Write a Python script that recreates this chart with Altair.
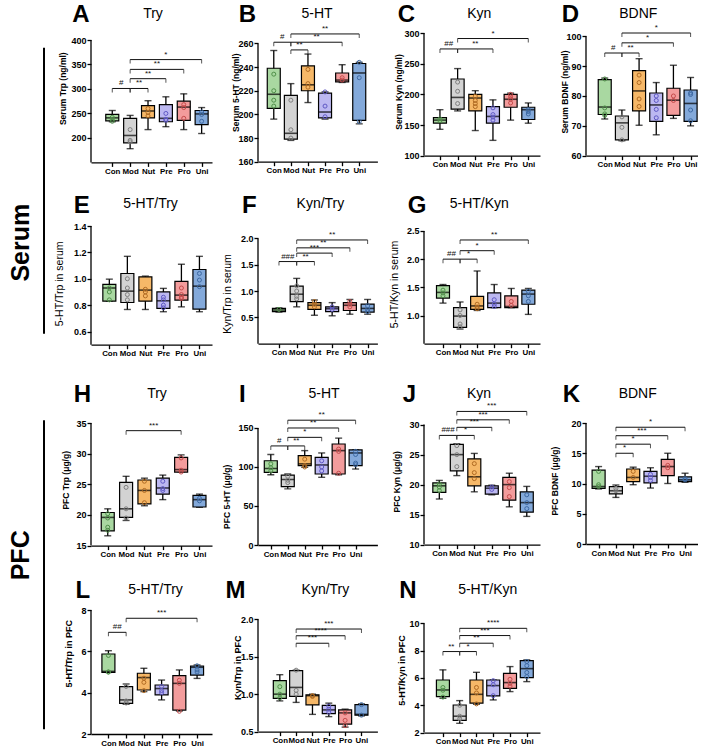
import altair as alt
import pandas as pd

FONT = "Liberation Sans"
GROUPS = ["Con", "Mod", "Nut", "Pre", "Pro", "Uni"]
FILLS = ["#a9d8a1", "#d3d3d3", "#f6b868", "#bcb8f1", "#f39c9c", "#83a9da"]
DOTS = ["#4f8f49", "#7f7f7f", "#b06a22", "#5f59c4", "#c54b4b", "#3d69a3"]

# box statistics per group: [min, q1, median, q3, max]
# ---------------- serum ----------------
A_box = [[233, 235, 241, 248, 256], [178, 190, 205, 240, 246], [217, 241, 255, 266, 276],
         [223, 233, 240, 268, 284], [217, 236, 263, 275, 290], [209, 227, 249, 256, 262]]
A_pts = [[242, 238, 234], [217, 195, 192], [260, 252, 245], [250, 238, 236], [268, 262, 240], [253, 248, 234]]
A_sig = [(0, 1, 301, "#"), (1, 2, 301, "**"), (1, 3, 321, "**"), (1, 4, 340, "**"), (1, 5, 360, "*")]

B_box = [[196, 205, 217, 239, 254], [178, 179, 184, 216, 226], [210, 220, 225, 241, 251],
         [196, 197, 202, 218, 219], [227, 227.5, 229, 235, 242], [192, 195, 235, 243, 244]]
B_pts = [[234, 220, 212, 207], [212, 187, 180], [238, 226, 223], [219, 207, 198], [231, 229], [244, 231, 194]]
B_sig = [(0, 1, 261, "#"), (1, 2, 254.5, "**"), (1, 4, 261, "**"), (1, 5, 268, "**")]

C_box = [[143, 153, 158, 162, 175], [173, 176, 195, 225, 242], [141, 173, 194, 200, 206],
         [125, 153, 164, 180, 191], [158, 179, 192, 200, 202], [153, 159, 175, 179, 186]]
C_pts = [[160, 157], [220, 205, 185], [197, 190, 185, 180], [178, 167, 163, 158], [200, 196, 192, 186], [175, 172, 168]]
C_sig = [(0, 1, 274, "##"), (1, 3, 274, "**"), (1, 5, 291, "*")]

D_box = [[72.3, 73.8, 76.3, 85.5, 86], [65, 65.3, 71, 73.3, 75.3], [70.2, 75, 81.7, 88.5, 92.5],
         [67, 71.5, 77, 81, 84.5], [72.5, 73.5, 78.6, 82.6, 90.3], [70, 71.5, 77.5, 82, 86.2]]
D_pts = [[85.7, 76, 74, 73.5], [73, 69.5, 65.3], [87, 84.5, 79, 76.5], [80, 78.5, 75.5, 72.7], [80, 78.5], [81, 80.5, 75.3, 71.7]]
D_sig = [(0, 1, 94.4, "#"), (1, 2, 94.4, "**"), (1, 4, 97.8, "*"), (1, 5, 101.1, "*")]

E_box = [[0.83, 0.83, 0.93, 0.957, 0.997], [0.767, 0.82, 0.906, 1.04, 1.17], [0.767, 0.83, 0.914, 1.015, 1.02],
         [0.75, 0.775, 0.833, 0.90, 0.927], [0.787, 0.838, 0.876, 0.98, 1.11], [0.75, 0.77, 0.944, 1.07, 1.17]]
E_pts = [[0.93, 0.90, 0.84], [1.0, 0.93, 0.88, 0.84], [0.92, 0.90, 0.87], [0.86, 0.84, 0.80, 0.78], [0.93, 0.88, 0.86, 0.85], [1.04, 0.99, 0.94]]
E_sig = []

F_box = [[0.60, 0.61, 0.64, 0.67, 0.68], [0.70, 0.80, 0.94, 1.095, 1.24], [0.54, 0.65, 0.73, 0.78, 0.83],
         [0.53, 0.61, 0.665, 0.70, 0.78], [0.56, 0.63, 0.73, 0.78, 0.84], [0.56, 0.60, 0.67, 0.75, 0.84]]
F_pts = [[0.65], [1.10, 1.00, 0.90, 0.85], [0.80, 0.75, 0.70], [0.70, 0.65], [0.80, 0.75, 0.70], [0.72, 0.65, 0.61]]
F_sig = [(0, 1, 1.56, "###"), (1, 2, 1.56, "**"), (1, 3, 1.72, "***"), (1, 4, 1.82, "**"), (1, 5, 1.97, "**")]

G_box = [[1.22, 1.31, 1.41, 1.53, 1.55], [0.76, 0.79, 0.99, 1.14, 1.24], [1.09, 1.11, 1.17, 1.34, 1.79],
         [1.14, 1.14, 1.22, 1.40, 1.55], [1.14, 1.14, 1.16, 1.35, 1.48], [1.02, 1.20, 1.38, 1.45, 1.48]]
G_pts = [[1.45, 1.40, 1.35], [1.10, 1.00, 0.85, 0.80], [1.20, 1.15, 1.12], [1.28, 1.20, 1.16], [1.25, 1.18], [1.43, 1.35, 1.25]]
G_sig = [(0, 1, 2.0, "##"), (1, 2, 2.0, "*"), (1, 3, 2.15, "*"), (1, 5, 2.34, "**")]

# ---------------- prefrontal cortex ----------------
H_box = [[16.6, 17.4, 19.6, 20.4, 21], [19.1, 19.6, 21, 25.3, 26.3], [21.5, 21.8, 24, 25.7, 26],
         [22.5, 23.4, 24.4, 26, 26.5], [27, 27, 27.4, 29.4, 29.8], [21.25, 21.3, 22.5, 23.2, 23.4]]
H_pts = [[20.2, 19.5, 18, 17.5], [24.5, 21, 19.5], [25.5, 24, 22], [25.5, 24.3, 24], [29.3, 27.3, 27], [22.7, 22.3]]
H_sig = [(1, 4, 33.75, "***")]

I_box = [[90, 93, 98, 108, 116], [72, 74.8, 84, 89.7, 91], [99.6, 101.7, 104, 114.5, 121],
         [86.8, 91, 102.6, 112.4, 118], [90, 91, 121, 129.5, 137], [97.4, 101.7, 118, 122, 122]]
I_pts = [[104, 99, 95], [88, 83, 80], [110, 102, 100], [108, 100, 95], [123, 120, 92], [120, 116, 105, 103]]
I_sig = [(0, 1, 127, "#"), (1, 2, 127, "**"), (1, 3, 138, "*"), (1, 4, 150, "**"), (1, 5, 160, "**")]

J_box = [[17.6, 18.7, 19.8, 20.3, 20.7], [21.5, 22.3, 25, 26.7, 26.8], [18.8, 19.8, 21.3, 24.3, 25.2],
         [18.3, 18.4, 19.4, 19.8, 19.9], [16.3, 17.4, 20, 21.2, 21.9], [14.7, 15.4, 17, 18.8, 19.7]]
J_pts = [[20.1, 19.6, 19], [26.5, 25, 23], [23.5, 22, 21], [19.6, 19.2], [20.5, 19.5, 18], [18.3, 17, 16]]
J_sig = [(0, 1, 28.2, "###"), (1, 2, 28.2, "*"), (1, 3, 29.55, "***"), (1, 4, 30.8, "***"), (1, 5, 32.2, "***")]

K_box = [[9.1, 9.2, 9.5, 12.2, 12.8], [7.7, 8.3, 8.8, 9.5, 9.75], [9.8, 10.3, 11, 12.4, 12.7],
         [9.25, 10.1, 11.2, 12, 12.6], [10, 11.3, 12.8, 14, 15], [10.2, 10.3, 10.6, 11.1, 11.7]]
K_pts = [[12, 9.8, 9.5], [9.2, 8.8], [12, 11], [11.5, 11, 10.5], [13, 12.6], [10.8, 10.6]]
K_sig = [(1, 2, 15, "*"), (1, 3, 16.5, "*"), (1, 4, 17.9, "***"), (1, 5, 19.3, "*")]

L_box = [[4.98, 4.98, 5.03, 5.87, 6.03], [3.44, 3.48, 3.65, 4.29, 4.42], [4.05, 4.13, 4.73, 4.94, 5.18],
         [3.65, 3.89, 4.2, 4.37, 4.61], [3.11, 3.16, 4.45, 4.82, 5.1], [4.69, 4.85, 5.23, 5.29, 5.34]]
L_pts = [[5.8, 5.0, 5.0], [4.3, 3.6, 3.5], [4.7, 4.5, 4.1], [4.3, 4.1, 4.0], [4.6, 4.45, 3.1], [5.3, 5.1, 5.0]]
L_sig = [(0, 1, 6.92, "##"), (1, 5, 7.6, "***")]

M_box = [[0.91, 0.945, 1.0, 1.18, 1.26], [0.89, 0.97, 1.09, 1.315, 1.32], [0.73, 0.856, 0.98, 0.99, 1.0],
         [0.70, 0.74, 0.79, 0.85, 0.88], [0.56, 0.60, 0.75, 0.79, 0.80], [0.71, 0.72, 0.73, 0.86, 0.87]]
M_pts = [[1.1, 1.0, 0.95], [1.32, 1.05, 1.0], [0.98, 0.97], [0.84, 0.80, 0.76], [0.75, 0.65, 0.58], [0.86, 0.72]]
M_sig = [(1, 3, 1.68, "***"), (1, 4, 1.78, "****"), (1, 5, 1.87, "***")]

N_box = [[4.51, 4.63, 5.12, 5.85, 6.59], [2.68, 2.9, 3.2, 4.02, 4.34], [4.07, 4.15, 4.8, 5.85, 6.41],
         [4.39, 4.68, 5.44, 5.85, 5.85], [5.0, 5.24, 5.66, 6.34, 6.83], [5.73, 6.02, 6.68, 7.27, 7.32]]
N_pts = [[5.3, 5.1, 4.6], [4.0, 3.2, 3.0], [5.3, 4.9, 4.1], [5.8, 5.5, 4.7], [5.9, 5.6, 5.4], [7.2, 6.9, 6.4, 6.1]]
N_sig = [(0, 1, 7.93, "**"), (1, 2, 7.93, "*"), (1, 3, 8.54, "**"), (1, 4, 9.1, "***"), (1, 5, 9.63, "****")]

# ---------------- panel options ----------------
# letter/title offsets are pixels from the plot's top-left corner
ROW_STYLE = [
    dict(ldy=-11, tdy=-15.5, tsize=8.5, tweight="bold"),
    dict(ldy=-12.6, tdy=-17.8, tsize=10.5, tweight="normal"),
    dict(ldy=-20.7, tdy=-25, tsize=8.5, tweight="bold"),
    dict(ldy=-11.7, tdy=-15.7, tsize=9, tweight="bold"),
]

PANELS = [
    # row 1
    [dict(letter="A", title="Try", ytitle="Serum Trp (ng/ml)", box=A_box, pts=A_pts, sig=A_sig,
          yticks=[200, 250, 300, 350, 400], fmt="d", ydom=(150, 414.3), xdom=(-0.91, 5.3),
          w=121, h=129.4, ldx=-18.8, tdx=62, tt=(-28.5, 55.2)),
     dict(letter="B", title="5-HT", ytitle="Serum 5-HT (ng/ml)", box=B_box, pts=B_pts, sig=B_sig,
          yticks=[160, 180, 200, 220, 240, 260], fmt="d", ydom=(160, 268.8), xdom=(-0.63, 5.77),
          w=119.4, h=128.7, ldx=-19.3, tdx=59, tt=(-22.6, 59.2)),
     dict(letter="C", title="Kyn", ytitle="Serum Kyn (ng/ml)", box=C_box, pts=C_pts, sig=C_sig,
          yticks=[100, 150, 200, 250, 300], fmt="d", ydom=(100, 300), xdom=(-0.62, 5.38),
          w=116, h=122.7, ldx=-26.3, tdx=55.3, tt=(-25.3, 58.5)),
     dict(letter="D", title="BDNF", ytitle="Serum BDNF (ng/ml)", box=D_box, pts=D_pts, sig=D_sig,
          yticks=[60, 70, 80, 90, 100], fmt="d", ydom=(60, 101.1), xdom=(-0.8, 5.14),
          w=112, h=122.7, ldx=-24.3, tdx=52.3, tt=(-21.7, 58.5))],
    # row 2
    [dict(letter="E", title="5-HT/Try", ytitle="5-HT/Trp in serum", box=E_box, pts=E_pts, sig=E_sig,
          yticks=[0.6, 0.8, 1.0, 1.2, 1.4], fmt=".1f", ydom=(0.5, 1.4), xdom=(-0.74, 5.42),
          w=121, h=118.7, ldx=-17.2, tdx=59.5, tt=(-31.2, 57.4)),
     dict(letter="F", title="Kyn/Try", ytitle="Kyn/Trp in serum", box=F_box, pts=F_pts, sig=F_sig,
          yticks=[0.5, 1.0, 1.5, 2.0], fmt=".1f", ydom=(0, 2.235), xdom=(-0.9, 5.27),
          w=119.4, h=117.7, ldx=-15.9, tdx=62.4, tt=(-30.9, 67.4)),
     dict(letter="G", title="5-HT/Kyn", ytitle="5-HT/Kyn in serum", box=G_box, pts=G_pts, sig=G_sig,
          yticks=[1.0, 1.5, 2.0, 2.5], fmt=".1f", ydom=(0.5, 2.588), xdom=(-0.82, 5.39),
          w=116, h=117.7, ldx=-16.3, tdx=55.3, tt=(-29.7, 58))],
    # row 3
    [dict(letter="H", title="Try", ytitle="PFC Trp (μg/g)", box=H_box, pts=H_pts, sig=H_sig,
          yticks=[15, 20, 25, 30, 35], fmt="d", ydom=(15, 35), xdom=(-0.64, 5.41),
          w=121, h=122.6, ldx=-17.2, tdx=66, tt=(-25.5, 56.8)),
     dict(letter="I", title="5-HT", ytitle="PFC 5-HT (μg/g)", box=I_box, pts=I_pts, sig=I_sig,
          yticks=[0, 50, 100, 150], fmt="d", ydom=(0, 156.4), xdom=(-0.46, 5.99),
          w=119.4, h=122, ldx=-19, tdx=66, tt=(-31.6, 73.3)),
     dict(letter="J", title="Kyn", ytitle="PFC Kyn (μg/g)", box=J_box, pts=J_pts, sig=J_sig,
          yticks=[10, 15, 20, 25, 30], fmt="d", ydom=(10, 30.27), xdom=(-0.59, 5.47),
          w=116, h=121.6, ldx=-21.3, tdx=55, tt=(-28, 58.3)),
     dict(letter="K", title="BDNF", ytitle="PFC BDNF (μg/g)", box=K_box, pts=K_pts, sig=K_sig,
          yticks=[0, 5, 10, 15, 20], fmt="d", ydom=(0, 20), xdom=(-0.44, 5.46),
          w=112, h=121, ldx=-23.3, tdx=51.7, tt=(-31.7, 57.6))],
    # row 4
    [dict(letter="L", title="5-HT/Try", ytitle="5-HT/Trp in PFC", box=L_box, pts=L_pts, sig=L_sig,
          yticks=[2, 4, 6, 8], fmt="d", ydom=(2, 8), xdom=(-0.70, 5.56),
          w=121, h=124, ldx=-15.5, tdx=64.5, tt=(-22.2, 43.3)),
     dict(letter="M", title="Kyn/Try", ytitle="Kyn/Trp in PFC", box=M_box, pts=M_pts, sig=M_sig,
          yticks=[0.5, 1.0, 1.5, 2.0], fmt=".1f", ydom=(0.5, 2.124), xdom=(-1.03, 5.67),
          w=119.4, h=121.6, ldx=-32.6, tdx=67.4, tt=(-20.9, 57.3)),
     dict(letter="N", title="5-HT/Kyn", ytitle="5-HT/Kyn in PFC", box=N_box, pts=N_pts, sig=N_sig,
          yticks=[2, 4, 6, 8, 10], fmt="d", ydom=(2, 10.97), xdom=(-0.83, 5.49),
          w=116, h=122.6, ldx=-24.7, tdx=63.7, tt=(-23, 60))],
]

# vertical gaps (px) between the plot rows
ROW_GAPS = [62.6, 77.7, 63.4]
COL_SPACING = 46

ONE = pd.DataFrame({"k": [0]})
LABEL_EXPR = "[" + ",".join(f"'{g}'" for g in GROUPS) + "][datum.value]"
FILL_SCALE = alt.Scale(domain=GROUPS, range=FILLS)
DOT_SCALE = alt.Scale(domain=GROUPS, range=DOTS)
INK = "#111111"


def make_panel(p, style, extra=None):
    xs = alt.Scale(domain=list(p["xdom"]), nice=False, zero=False)
    ys = alt.Scale(domain=list(p["ydom"]), nice=False, zero=False)
    xaxis = alt.Axis(values=list(range(len(GROUPS))), labelExpr=LABEL_EXPR, title=None,
                     labelFlush=False, labelOverlap=False, labelPadding=1, labelFontSize=7.9)
    yaxis = alt.Axis(values=p["yticks"], format=p["fmt"], title=p["ytitle"], domain=False,
                     labelFlush=False, labelOverlap=False, labelPadding=1, labelFontSize=9,
                     titleFontSize=style["tsize"], titleFontWeight=style["tweight"],
                     titleX=p["tt"][0], titleY=p["tt"][1], titleAngle=270,
                     titleAlign="center", titleBaseline="middle")

    def X(f):
        return alt.X(f, type="quantitative", scale=xs, axis=xaxis)

    def Y(f):
        return alt.Y(f, type="quantitative", scale=ys, axis=yaxis)

    bdf = pd.DataFrame([dict(idx=i, grp=g, lo=b[0], q1=b[1], med=b[2], q3=b[3], hi=b[4])
                        for i, (g, b) in enumerate(zip(GROUPS, p["box"]))])
    pdf = pd.DataFrame([dict(idx=i, grp=g, v=v)
                        for i, (g, vals) in enumerate(zip(GROUPS, p["pts"])) for v in vals])
    adf = pd.DataFrame({"ybot": [p["ydom"][0]], "ytop": [p["yticks"][-1]]})

    base = alt.Chart(bdf)
    layers = [
        alt.Chart(adf).mark_rule(color="black", strokeWidth=1.3).encode(
            x=alt.value(0), y=Y("ybot"), y2="ytop"),
        base.mark_rule(color="black", strokeWidth=1.3).encode(x=X("idx"), y=Y("lo"), y2="hi"),
        base.transform_fold(["lo", "hi"], as_=["end", "cap"]).mark_tick(
            orient="horizontal", size=7, thickness=1.4, color="black").encode(x=X("idx"), y=Y("cap")),
        base.mark_bar(size=13, stroke="black", strokeWidth=1.2).encode(
            x=X("idx"), y=Y("q1"), y2="q3", fill=alt.Fill("grp:N", scale=FILL_SCALE, legend=None)),
        base.mark_tick(orient="horizontal", size=13, thickness=1.6, color="black").encode(
            x=X("idx"), y=Y("med")),
        alt.Chart(pdf).mark_point(filled=False, size=16, strokeWidth=1, opacity=1).encode(
            x=X("idx"), y=Y("v"), stroke=alt.Stroke("grp:N", scale=DOT_SCALE, legend=None)),
    ]
    if p["sig"]:
        sdf = pd.DataFrame(p["sig"], columns=["a", "b", "y", "lab"])
        sb = alt.Chart(sdf)
        layers += [
            sb.mark_rule(color=INK, strokeWidth=1).encode(x=X("a"), x2="b", y=Y("y")),
            sb.transform_fold(["a", "b"], as_=["end", "xe"]).mark_tick(
                orient="vertical", size=4, thickness=1, yOffset=2, color=INK).encode(
                x=X("xe"), y=Y("y")),
            sb.transform_calculate(mid="(datum.a + datum.b) / 2").mark_text(
                font=FONT, fontSize=8, baseline="bottom", dy=-1, fill=INK).encode(
                x=X("mid"), y=Y("y"), text="lab:N"),
        ]
    layers += [
        alt.Chart(ONE).mark_text(text=p["letter"], font=FONT, fontSize=24, fontWeight="bold",
                                 align="left", baseline="alphabetic", color="black").encode(
            x=alt.value(p["ldx"]), y=alt.value(style["ldy"])),
        alt.Chart(ONE).mark_text(text=p["title"], font=FONT, fontSize=14, align="center",
                                 baseline="alphabetic", color="black").encode(
            x=alt.value(p["tdx"]), y=alt.value(style["tdy"])),
    ]
    if extra:
        layers += extra
    return alt.layer(*layers).properties(width=p["w"], height=p["h"])


def section_label(text, cy, y1, y2):
    return [
        alt.Chart(ONE).mark_text(text=text, font=FONT, fontSize=25, fontWeight="bold", angle=270,
                                 align="center", baseline="middle", color="black").encode(
            x=alt.value(-70.5), y=alt.value(cy)),
        alt.Chart(ONE).mark_rule(color="black", strokeWidth=2).encode(
            x=alt.value(-47), y=alt.value(y1), y2=alt.value(y2)),
    ]


def blank(h):
    return alt.Chart(ONE).mark_point(opacity=0, size=1).encode(
        x=alt.value(0), y=alt.value(0)).properties(width=1, height=h)


# invisible anchor fixing the page origin relative to the first plot
anchor = [alt.Chart(ONE).mark_point(opacity=0, size=1).encode(x=alt.value(-90.5), y=alt.value(-32.3))]

cells = []
for r, row in enumerate(PANELS):
    style = ROW_STYLE[r]
    for c, p in enumerate(row):
        extra = None
        if r == 0 and c == 0:
            extra = section_label("Serum", 209.7, 14.7, 300.7) + anchor
        if r == 2 and c == 0:
            extra = section_label("PFC", 132.3, -2.7, 306.3)
        cells.append(make_panel(p, style, extra))
    if r < len(PANELS) - 1:
        for _ in range(4 - len(row)):
            cells.append(blank(1))
        for _ in range(4):
            cells.append(blank(ROW_GAPS[r]))

chart = alt.concat(*cells, columns=4, spacing={"row": 0, "column": COL_SPACING},
                   bounds="flush", align="each").properties(
    padding=0, background="white"
).configure_view(stroke=None).configure_axis(
    labelFont=FONT, titleFont=FONT, labelColor="black", titleColor="black",
    labelFontWeight="bold", domainColor="black", tickColor="black",
    tickSize=4, domainWidth=1.3, tickWidth=1.3, grid=False
)

chart.save("out.html", embed_options={"renderer": "svg", "actions": False})
